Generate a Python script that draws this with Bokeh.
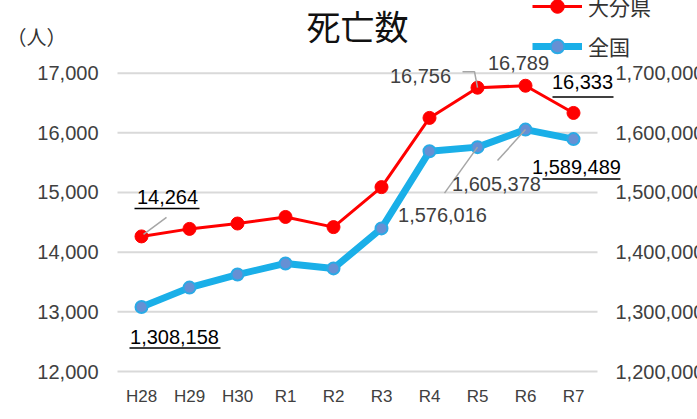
from bokeh.plotting import figure
from bokeh.models import (Range1d, LinearAxis, FixedTicker, NumeralTickFormatter,
                          Legend, LegendItem, Label)
from bokeh.core.properties import value
from bokeh.embed import file_html
from bokeh.resources import INLINE

# ---- data ----
categories = ["H28", "H29", "H30", "R1", "R2", "R3", "R4", "R5", "R6", "R7"]
oita = [14264, 14390, 14480, 14590, 14420, 15090, 16250, 16756, 16789, 16333]
national = [1308158, 1340567, 1362470, 1381093, 1372755, 1439856, 1569050,
            1576016, 1605378, 1589489]
left_ticks = [12000, 13000, 14000, 15000, 16000, 17000]
right_ticks = [1200000, 1300000, 1400000, 1500000, 1600000, 1700000]
title_text = "死亡数"
unit_text = "（人）"
series_names = ["大分県", "全国"]

# ---- geometry (plot area inside the canvas) ----
W, H = 697, 419
AREA_L, AREA_R, AREA_B = 117, 597, 371          # pixel edges of the plot area
n = len(categories)
PXX = (AREA_R - AREA_L) / n                       # px per category
PXY_L = 59.67 / 1000.0                            # px per person (left)
PXY_R = 59.67 / 100000.0                          # px per person (right)

x_lo = -0.5 - AREA_L / PXX
x_hi = -0.5 + (W - AREA_L) / PXX
yl_lo = left_ticks[0] - (H - AREA_B) / PXY_L
yl_hi = left_ticks[0] + AREA_B / PXY_L
yr_lo = right_ticks[0] - (H - AREA_B) / PXY_R
yr_hi = right_ticks[0] + AREA_B / PXY_R

JP = "Noto Sans CJK JP"
NUM = "Liberation Sans"
xs = list(range(n))

p = figure(width=W, height=H, x_range=Range1d(x_lo, x_hi),
           y_range=Range1d(yl_lo, yl_hi),
           output_backend="svg", toolbar_location=None,
           min_border_left=0, min_border_right=0,
           min_border_top=0, min_border_bottom=0,
           outline_line_color=None, background_fill_color="white",
           border_fill_color="white")
p.extra_y_ranges = {"right": Range1d(yr_lo, yr_hi)}


def xd(px):
    return -0.5 + (px - AREA_L) / PXX


def yd(py):
    return left_ticks[0] + (AREA_B - py) / PXY_L


# axes (fixed at the plot-area edges)
yax = p.yaxis[0]
yax.fixed_location = -0.5
yax.ticker = FixedTicker(ticks=left_ticks)
yax.formatter = NumeralTickFormatter(format="0,0")
yax.axis_line_color = None
yax.major_tick_line_color = None
yax.minor_tick_line_color = None
yax.major_label_text_font = NUM
yax.major_label_text_font_size = "20px"
yax.major_label_text_color = "#404040"
yax.major_label_standoff = 13

rax = LinearAxis(y_range_name="right", ticker=FixedTicker(ticks=right_ticks),
                 formatter=NumeralTickFormatter(format="0,0"), fixed_location=n - 0.5)
rax.axis_line_color = None
rax.major_tick_line_color = None
rax.minor_tick_line_color = None
rax.major_label_text_font = NUM
rax.major_label_text_font_size = "20px"
rax.major_label_text_color = "#404040"
rax.major_label_standoff = 12
p.add_layout(rax, "right")

xax = p.xaxis[0]
xax.fixed_location = left_ticks[0]
xax.ticker = FixedTicker(ticks=xs)
xax.major_label_overrides = {i: c for i, c in enumerate(categories)}
xax.axis_line_color = None
xax.major_tick_line_color = None
xax.minor_tick_line_color = None
xax.major_label_text_font = NUM
xax.major_label_text_font_size = "17px"
xax.major_label_text_color = "#404040"
xax.major_label_standoff = 9

p.xgrid.visible = False
p.ygrid.visible = False
# horizontal grid lines limited to the plot area
p.segment(x0=[-0.5] * len(left_ticks), x1=[n - 0.5] * len(left_ticks),
          y0=left_ticks, y1=left_ticks, line_color="#D9D9D9", line_width=2)

# series
red_line = p.line(xs, oita, line_color="#FF0000", line_width=3, line_join="round")
red_pts = p.scatter(xs, oita, size=13, fill_color="#FF0000", line_color="#FF0000")
blue_line = p.line(xs, national, y_range_name="right", line_color="#1AAFE8",
                   line_width=7, line_join="round")
blue_pts = p.scatter(xs, national, y_range_name="right", size=12,
                     fill_color="#6690D4", line_color="#2AAAE6", line_width=2)

# data labels: (series, index, dx, dy, underline(x0,x1,dy) or None, leader pts)
label_specs = [
    ("L", 0, 26, -39, (-7, 58, -28), [(2, -2), (25, -19)]),
    ("L", 7, -57, -12, None, [(0, 0), (-3, -16), (-15, -16)]),
    ("L", 8, -7, -23, None, None),
    ("L", 9, 9, -31, (-21, 40, -16), None),
    ("R", 0, 33, 30, (-12, 79, 41), None),
    ("R", 7, -35, 68, None, [(0, 0), (-33, 46)]),
    ("R", 8, -29, 54, None, [(0, 0), (-28, 31)]),
    ("R", 9, 3, 28, (-31, 47, 40), None),
]

for ser, i, dx, dy, ul, leader in label_specs:
    if ser == "L":
        v = oita[i]
        pxy = PXY_L
        kw = {}
    else:
        v = national[i]
        pxy = PXY_R
        kw = {"y_range_name": "right"}
    color = "#000000" if ul else "#404040"
    if leader:
        p.line([i + a / PXX for a, b in leader], [v - b / pxy for a, b in leader],
               line_color="#A6A6A6", line_width=1.5, **kw)
    p.text(x=[i + dx / PXX], y=[v - dy / pxy], text=[f"{v:,}"],
           text_font=value(NUM), text_font_size="20px", text_color=color,
           text_align="center", text_baseline="middle", **kw)
    if ul:
        x0, x1, uy = ul
        p.segment(x0=[i + x0 / PXX], y0=[v - uy / pxy], x1=[i + x1 / PXX],
                  y1=[v - uy / pxy], line_color="#000000", line_width=1.5, **kw)

# title and unit
p.add_layout(Label(x=xd(357), y=yd(25), text=title_text, text_font=JP,
                   text_font_size="34px", text_font_style="normal",
                   text_color="#111111", text_align="center",
                   text_baseline="middle"))
p.add_layout(Label(x=xd(6), y=yd(36), text=unit_text, text_font=JP,
                   text_font_size="20px", text_color="#333333",
                   text_align="left", text_baseline="middle"))

# legend
legend = Legend(items=[LegendItem(label=series_names[0], renderers=[red_line, red_pts]),
                       LegendItem(label=series_names[1], renderers=[blue_line, blue_pts])],
                location=(532, H - 63), orientation="vertical",
                glyph_width=50, glyph_height=34, spacing=6, padding=0, margin=0,
                label_standoff=6, label_text_font=JP, label_text_font_size="21px",
                label_text_color="#333333", background_fill_alpha=0,
                border_line_color=None)
p.add_layout(legend)

open("out.html", "w").write(file_html(p, INLINE))
